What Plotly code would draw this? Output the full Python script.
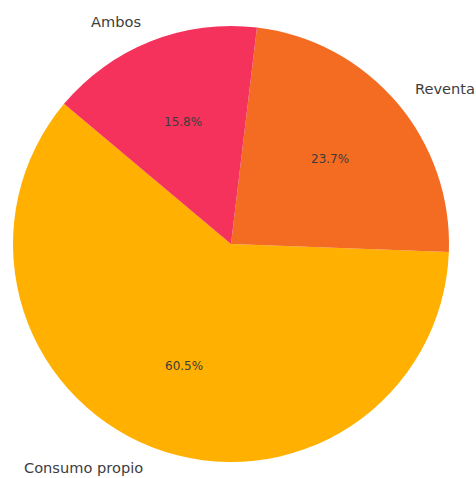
import math
import plotly.graph_objects as go

# Survey answers: purpose of purchase
labels = ["Consumo propio", "Reventa", "Ambos"]
counts = [23, 9, 6]
colors = ["#FFB000", "#F46B22", "#F5325B"]

start_angle = 140  # degrees, counterclockwise from 3 o'clock
total = sum(counts)

# plotly's rotation for a counterclockwise pie marks the ccw end of the first slice,
# measured clockwise from 12 o'clock
rotation = (90 - start_angle - 360 * counts[0] / total) % 360

fig = go.Figure(go.Pie(
    labels=labels,
    values=counts,
    sort=False,
    direction="counterclockwise",
    rotation=rotation,
    marker=dict(colors=colors, line=dict(width=0)),
    textinfo="none",
    showlegend=False,
    hoverinfo="label+percent",
))

# slice labels outside and percentages inside, placed at each slice's mid-angle
annotations = []
angle = start_angle
for lab, c in zip(labels, counts):
    span = 360 * c / total
    mid = math.radians(angle + span / 2)
    angle += span
    cx, sy = math.cos(mid), math.sin(mid)
    annotations.append(dict(
        x=0.5 + 0.5 * 1.1 * cx, y=0.5 + 0.5 * 1.1 * sy,
        xref="paper", yref="paper", showarrow=False,
        text=lab, xanchor="left" if cx > 0 else "right", yanchor="middle",
        font=dict(family="DejaVu Sans", size=14.6, color="#3d3d3d"),
    ))
    annotations.append(dict(
        x=0.5 + 0.5 * 0.6 * cx, y=0.5 + 0.5 * 0.6 * sy,
        xref="paper", yref="paper", showarrow=False,
        text=f"{100 * c / total:.1f}%", xanchor="center", yanchor="middle",
        font=dict(family="DejaVu Sans", size=12, color="#3d3d3d"),
    ))

fig.update_layout(
    width=476, height=478,
    margin=dict(l=13, r=27, t=26, b=16),
    paper_bgcolor="white", plot_bgcolor="white",
    annotations=annotations,
)

fig.write_html("out.html")
